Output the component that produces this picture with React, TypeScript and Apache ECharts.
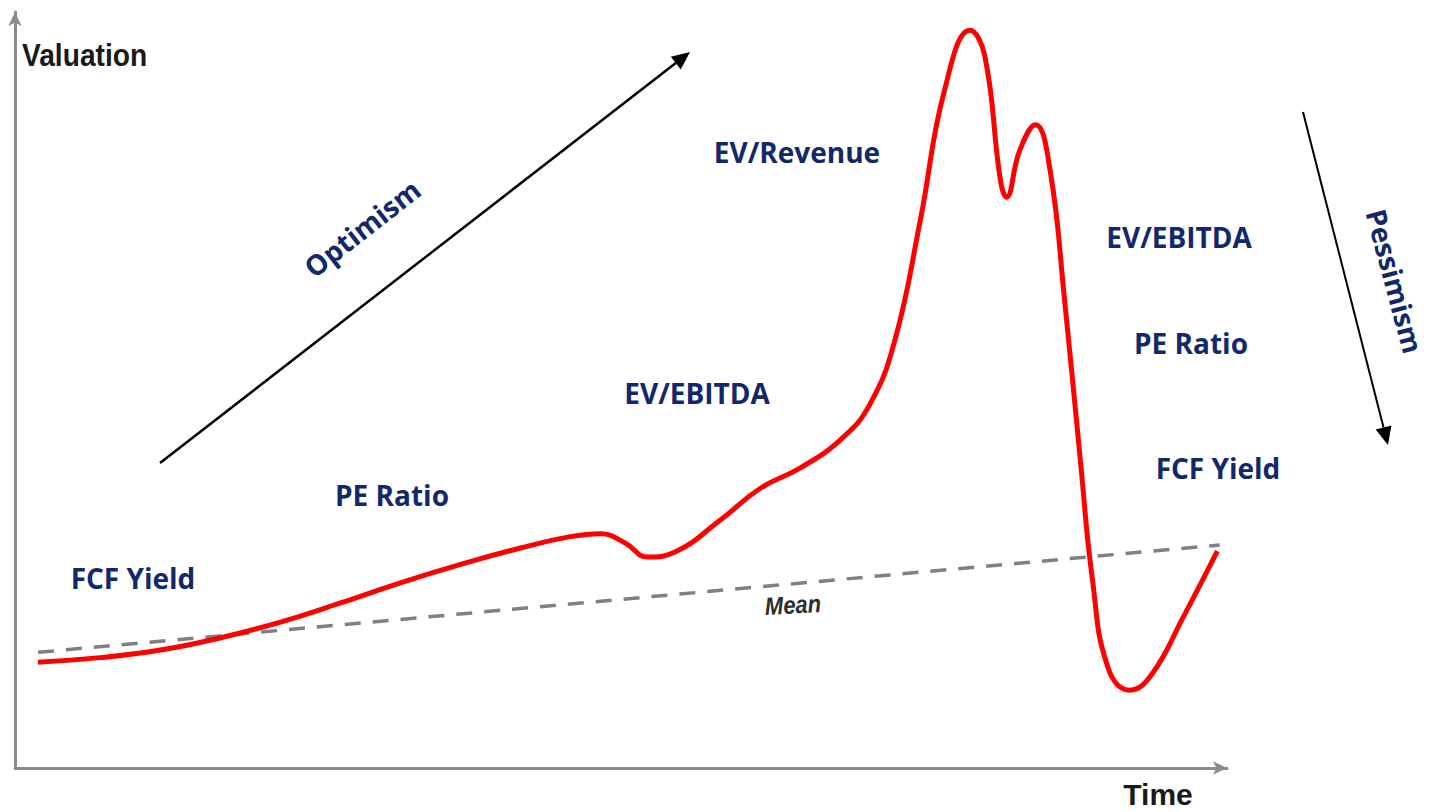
import React, { useEffect, useRef } from "react";
import * as echarts from "echarts";

// Time (0-100) and valuation (0-100) in abstract units
const curveTime = [1.9, 7.0, 12.0, 16.9, 21.9, 26.8, 31.8, 36.7, 41.7, 45.8, 48.3, 50.3, 52.2, 54.5, 58.2, 61.5, 64.8, 68.1, 70.5, 72.6, 74.7, 76.7, 78.8, 80.0, 81.3, 81.8, 82.9, 84.2, 85.4, 86.6, 87.9, 88.9, 90.2, 92.0, 93.8, 96.4, 99.2];
const curveValue = [14.0, 14.6, 15.6, 17.2, 19.3, 21.8, 24.5, 26.9, 29.1, 30.6, 31.0, 29.8, 27.9, 28.6, 32.8, 37.0, 39.7, 43.4, 48.0, 56.6, 72.5, 89.7, 97.6, 94.3, 77.8, 75.5, 81.7, 85.1, 79.1, 61.9, 40.7, 24.9, 13.2, 10.3, 12.4, 20.0, 28.7];
const meanTime = [1.9, 99.4];
const meanValue = [15.3, 29.5];

const stageLabels = ["FCF Yield", "PE Ratio", "EV/EBITDA", "EV/Revenue", "EV/EBITDA", "PE Ratio", "FCF Yield"];
const stageLabelPos = [
  [133, 578],
  [392, 495],
  [697, 393],
  [797, 152],
  [1179, 237],
  [1191, 343],
  [1218, 468],
];

const NAVY = "#11296b";

function arrow(x1: number, y1: number, x2: number, y2: number, color: string, width: number, head: number) {
  const a = Math.atan2(y2 - y1, x2 - x1);
  const hw = head * 0.45;
  const bx = x2 - Math.cos(a) * head;
  const by = y2 - Math.sin(a) * head;
  const px = -Math.sin(a) * hw;
  const py = Math.cos(a) * hw;
  return [
    { type: "line", shape: { x1, y1, x2: bx, y2: by }, style: { stroke: color, lineWidth: width } },
    {
      type: "polygon",
      shape: { points: [[x2, y2], [bx + px, by + py], [bx - px, by - py]] },
      style: { fill: color },
    },
  ];
}

export default function App() {
  const ref = useRef<HTMLDivElement>(null);
  useEffect(() => {
    if (!ref.current) return;
    const chart = echarts.init(ref.current, undefined, { renderer: "svg" });
    const labelFont = { fontSize: 28, fontWeight: "bold", fontFamily: "Open Sans", fill: NAVY };
    const graphics: any[] = [
      ...stageLabels.map((t, i) => ({
        type: "text",
        x: stageLabelPos[i][0],
        y: stageLabelPos[i][1],
        style: { ...labelFont, text: t, align: "center", verticalAlign: "middle" },
      })),
      {
        type: "text",
        x: 362,
        y: 228,
        rotation: (38 * Math.PI) / 180,
        style: { ...labelFont, text: "Optimism", align: "center", verticalAlign: "middle" },
      },
      {
        type: "text",
        x: 1395,
        y: 281,
        rotation: (-75 * Math.PI) / 180,
        style: { ...labelFont, lineHeight: 28, text: "Pessimism", align: "center", verticalAlign: "middle" },
      },
      {
        type: "text",
        x: 22,
        y: 55,
        scaleX: 0.88,
        style: { text: "Valuation", fontSize: 32, fontWeight: "bold", fontFamily: "Liberation Sans", fill: "#1a1a1a", align: "left", verticalAlign: "middle" },
      },
      {
        type: "text",
        x: 1158,
        y: 794,
        style: { text: "Time", fontSize: 30, fontWeight: "bold", fontFamily: "Liberation Sans", fill: "#1a1a1a", align: "center", verticalAlign: "middle" },
      },
      {
        type: "text",
        x: 793,
        y: 605,
        rotation: 0.05,
        scaleX: 0.88,
        style: { text: "Mean", fontSize: 25, fontWeight: "bold", fontStyle: "italic", fontFamily: "Liberation Sans", fill: "#2e2e2e", align: "center", verticalAlign: "middle" },
      },
      ...arrow(160, 463, 690, 52, "#000000", 2.5, 18),
      ...arrow(1303, 112, 1388, 445, "#000000", 2, 18),
    ];
    const axisCommon = {
      type: "value",
      min: 0,
      max: 100,
      axisLine: { show: true, symbol: ["none", "arrow"], symbolSize: [10, 14], lineStyle: { color: "#8c8c8c", width: 3 } },
      axisTick: { show: false },
      axisLabel: { show: false },
      splitLine: { show: false },
    };
    chart.setOption({
      animation: false,
      backgroundColor: "#ffffff",
      grid: { left: 15, right: 207, top: 12, bottom: 44 },
      xAxis: { ...axisCommon },
      yAxis: { ...axisCommon },
      series: [
        {
          type: "line",
          name: "Mean",
          data: meanTime.map((t, i) => [t, meanValue[i]]),
          symbol: "none",
          lineStyle: { color: "#808080", width: 3.5, type: [16, 12] },
          z: 2,
        },
        {
          type: "line",
          name: "Valuation",
          data: curveTime.map((t, i) => [t, curveValue[i]]),
          symbol: "none",
          smooth: 0.45,
          lineStyle: { color: "#ff0000", width: 5 },
          z: 3,
        },
      ],
      graphic: graphics,
    });
    return () => chart.dispose();
  }, []);
  return <div ref={ref} style={{ position: "fixed", left: 0, top: 0, width: 1434, height: 812 }} />;
}
